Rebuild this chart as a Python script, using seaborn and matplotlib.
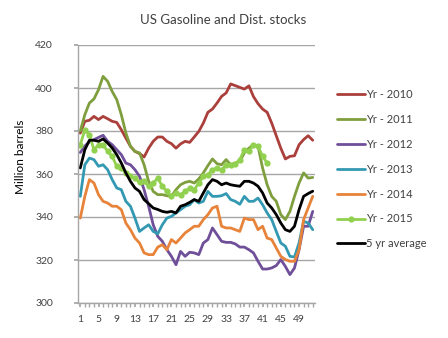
import numpy as np
import pandas as pd
import matplotlib
matplotlib.use("Agg")
import matplotlib.pyplot as plt
import seaborn as sns

weeks = list(range(1, 53))

yr_2010 = [379, 384.5, 385, 386.8, 385.3, 386.8, 385.7, 384.5, 384, 380.6, 376.7, 372.9, 370.5, 369.5, 367.9, 372, 375.2, 377.2,
           377.2, 375.2, 374.1, 372, 374, 375.2, 374.7, 377.2, 379.8, 383.7, 388.7, 390.2, 393, 396.1, 397.7, 401.9, 401.1, 400.3,
           399.5, 401, 396, 392.7, 390.2, 388.7, 383.7, 377.8, 372, 367, 368.2, 368.5, 373.6, 376, 377.8, 375.7]
yr_2011 = [380, 387.6, 393, 394.9, 399.2, 405.4, 403.1, 398.4, 394.6, 387.6, 379.1, 372.9, 370.5, 369.8, 364.3, 356.6, 351.9, 350.4,
           350.4, 349.9, 349.6, 352.7, 355, 356.1, 356.6, 355.8, 357.7, 360.5, 363.9, 367, 364.8, 364.3, 366.7, 364.3, 365.1, 365.9,
           369.8, 372, 373.6, 372.9, 362.8, 355, 349.6, 347.3, 341.1, 338.8, 342.6, 349.6, 355.8, 360.5, 358.1, 358.4]
yr_2012 = [370, 373, 375, 376, 377, 378, 375.2, 373.6, 371.3, 369, 365.1, 364.3, 362, 358.9, 352.7, 345, 336.4, 331,
           328.7, 324.8, 321.7, 317.8, 324, 321.7, 323.6, 323.3, 322.5, 327.9, 329.5, 334.9, 331.8, 328.7, 328.2, 328.2, 327.5, 326,
           326, 324.8, 323.3, 319.4, 315.8, 315.8, 316.3, 317.4, 320.2, 317, 313.2, 316.3, 324.8, 335.7, 335.7, 342.6]
yr_2013 = [349.6, 364.3, 367.4, 366.7, 363.6, 364.3, 362, 357.4, 353.5, 352.7, 347.3, 345, 339.5, 333.3, 334.9, 336.4, 333.3, 332.2,
           336.4, 339.5, 340.3, 341.9, 343.4, 345, 345.7, 348.1, 346.5, 347.3, 351.9, 349.6, 349.6, 349.9, 350.9, 348.1, 347.3, 345.9,
           349.6, 347.3, 347.3, 348.8, 345.7, 341.9, 338.8, 333.3, 327.9, 326.4, 321.7, 321.4, 327.9, 338, 337.2, 334.1]
yr_2014 = [339.5, 349.6, 357.4, 355.8, 350.4, 347.3, 346.5, 345, 345, 343.4, 337.2, 334.1, 330.2, 327.9, 323.3, 322.5, 322.5, 326,
           327.1, 324.8, 329.5, 327.9, 330.2, 332.6, 334.1, 335.7, 335.7, 338.8, 341.1, 344.2, 345, 335.7, 334.9, 334.9, 334.1, 333.3,
           339.5, 338.8, 338.8, 334.1, 335.7, 330.2, 329.5, 325.6, 321.7, 320.2, 319.4, 319.4, 324.8, 338.8, 344.2, 349.6]
yr_2015 = [373.6, 380.6, 378.3, 371.3, 373.6, 373.6, 370.5, 368.2, 363.6, 362.8, 360.5, 359.2, 358.1, 356.1, 356.6, 354.3, 355.8, 358.1,
           354.3, 351.9, 349.6, 351.2, 350.4, 351.9, 353.5, 352.7, 355.8, 358.9, 359.7, 362, 362.8, 362, 364.3, 364.3, 364.7, 366.7,
           371.3, 370.5, 373.6, 372.9, 368.2, 365.1] + [np.nan] * 10
avg_5yr = [362.8, 371.3, 375.7, 375.7, 375.2, 376.3, 374.4, 372.1, 369, 365.1, 360.5, 356.6, 353.5, 351.9, 348.1, 346.2, 344.2, 343.5,
           342.6, 342.2, 342.6, 341.9, 345, 345.7, 346.8, 348.1, 347.3, 351.2, 355, 357.4, 356.6, 355, 355.8, 355, 354.6, 354.3,
           356.6, 356.6, 355.8, 354.3, 351.2, 346.5, 344.2, 341.1, 337.2, 334.1, 333.3, 335.7, 343.4, 349.6, 350.9, 352]

series_names = ["Yr - 2010", "Yr - 2011", "Yr - 2012", "Yr - 2013", "Yr - 2014", "Yr - 2015", "5 yr average"]
series_values = [yr_2010, yr_2011, yr_2012, yr_2013, yr_2014, yr_2015, avg_5yr]
colors = ["#AA3F3B", "#7F9E3E", "#6F4F99", "#3399B2", "#E8833A", "#92D050", "#000000"]

x_tick_labels = [str(w) for w in range(1, 53, 4)]
y_ticks = [300, 320, 340, 360, 380, 400, 420]

df = pd.DataFrame({"week": weeks})
for name, vals in zip(series_names, series_values):
    df[name] = vals

sns.set_theme(style="white")
plt.rcParams["font.family"] = ["Lato", "DejaVu Sans"]

fig = plt.figure(figsize=(4.48, 3.38), dpi=100)
ax = fig.add_axes([78 / 448, 1 - 303 / 338, (315 - 78) / 448, (303 - 45) / 338])

grid_c = "#A6A6A6"
for name, col in zip(series_names, colors):
    if name == "Yr - 2015":
        sns.lineplot(data=df, x="week", y=name, ax=ax, color=col, linewidth=2.0,
                     marker="o", markersize=4.5, markeredgewidth=0, label=name)
    else:
        sns.lineplot(data=df, x="week", y=name, ax=ax, color=col, linewidth=2.0, label=name)

ax.set_xlim(0.5, 52.5)
ax.set_ylim(300, 420)
ax.set_yticks(y_ticks)
ax.set_xticks(list(range(1, 53, 4)))
ax.set_xticklabels(x_tick_labels)
ax.set_xticks(weeks, minor=True)
ax.grid(axis="y", color=grid_c, linewidth=1.0)
ax.set_axisbelow(True)
for s in ["top", "right"]:
    ax.spines[s].set_visible(False)
for s in ["left", "bottom"]:
    ax.spines[s].set_color(grid_c)
    ax.spines[s].set_linewidth(1.0)
ax.tick_params(axis="y", which="major", length=3, color=grid_c, direction="out", left=True,
               labelsize=7.5, pad=15, labelcolor="#404040")
ax.tick_params(axis="x", which="both", length=3, color=grid_c, direction="out", bottom=True,
               labelsize=7.5, pad=6, labelcolor="#404040")
ax.set_xlabel("")
ax.set_ylabel("")

fig.text(20 / 448, 1 - 157 / 338, "Million barrels", rotation=90, ha="center", va="center",
         fontsize=8.5, color="#000000")
fig.text(223 / 448, 1 - 20 / 338, "US Gasoline and Dist. stocks", ha="center", va="center",
         fontsize=9.5, color="#404040")

handles, labels = ax.get_legend_handles_labels()
ax.legend(handles, labels, loc="upper left", bbox_to_anchor=(337 / 448, 1 - 89 / 338),
          bbox_transform=fig.transFigure, frameon=False, fontsize=8, handlelength=2.5,
          handletextpad=0.15, labelspacing=1.25, borderpad=0, borderaxespad=0,
          labelcolor="#404040")

fig.savefig("out.png", dpi=100, facecolor="white")
